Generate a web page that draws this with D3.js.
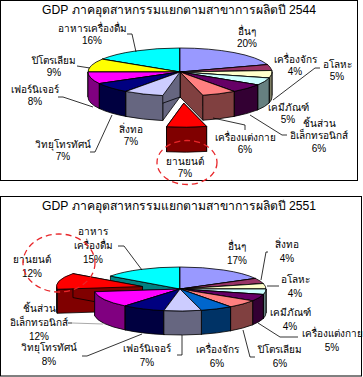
<!doctype html>
<html lang="th">
  <head>
    <meta charset="utf-8">
    <title>GDP ภาคอุตสาหกรรม</title>
    <script src="https://d3js.org/d3.v7.min.js"></script>
    <style>
      html, body { margin: 0; padding: 0; background: #fff; }
      svg { display: block; }
      text { font-family: "Liberation Sans", "Noto Sans", sans-serif; font-size: 10px; fill: #000; text-anchor: middle; dominant-baseline: middle; }
      .title { font-size: 12.2px; }
      .leader { fill: none; stroke: #000; stroke-width: 0.8; }
      .slice path { stroke: #000; stroke-width: 0.8; stroke-linejoin: round; }
      .circle { fill: none; stroke: #e8262a; stroke-width: 1.3; stroke-dasharray: 6 4; }
    </style>
  </head>
  <body>
    <div id="chart"></div>
    <script>
      // chart 1, year 2544 (clockwise from 12 o'clock)
      let title1 = "GDP ภาคอุตสาหกรรมแยกตามสาขาการผลิตปี 2544";
      let labels1 = [["อื่นๆ"], ["เครื่องจักร"], ["อโลหะ"], ["เคมีภัณฑ์"], ["ชิ้นส่วน", "อิเล็กทรอนิกส์"], ["เครื่องแต่งกาย"],
                     ["ยานยนต์"], ["สิ่งทอ"], ["วิทยุโทรทัศน์"], ["เฟอร์นิเจอร์"], ["ปิโตรเลียม"], ["อาหารเครื่องดื่ม"]];
      let values1 = [20, 4, 5, 5, 6, 6, 7, 7, 7, 8, 9, 16];
      let colors1 = ["#9999ff", "#993366", "#ffffcc", "#ccffff", "#660066", "#ff8080",
                     "#ff0000", "#ccccff", "#000080", "#ff00ff", "#ffff00", "#00ffff"];

      // chart 2, year 2551
      let title2 = "GDP ภาคอุตสาหกรรมแยกตามสาขาการผลิตปี 2551";
      let labels2 = [["อื่นๆ"], ["สิ่งทอ"], ["อโลหะ"], ["เคมีภัณฑ์"], ["เครื่องแต่งกาย"], ["ปิโตรเลียม"], ["เครื่องจักร"],
                     ["เฟอร์นิเจอร์"], ["วิทยุโทรทัศน์"], ["ชิ้นส่วน", "อิเล็กทรอนิกส์"], ["ยานยนต์"], ["อาหาร", "เครื่องดื่ม"]];
      let values2 = [17, 4, 4, 4, 5, 6, 6, 7, 8, 12, 12, 15];
      let colors2 = ["#9999ff", "#993366", "#ffffcc", "#ccffff", "#660066", "#ff8080", "#0066cc",
                     "#ccccff", "#000080", "#ff00ff", "#ff0000", "#00ffff"];

      // label centres, first line y then line step, same order as labels
      let labelPos1 = [[247, 32], [295, 60], [337, 65], [288, 108], [319, 124], [245, 138],
                       [185, 162], [131, 130], [63, 145], [35, 90], [54, 61], [92, 29]];
      let labelPos2 = [[237, 247], [287, 245], [295, 280], [290, 313], [332, 334], [280, 350],
                       [217, 350], [147, 349], [49, 348], [39, 309], [32, 260], [93, 232]];

      let leaders1 = [
        [[127, 34], [132, 34], [136, 52]],
        [[77, 66], [90, 68]],
        [[58, 97], [63, 97], [93, 107]],
        [[90, 152], [95, 152], [112, 115]],
        [[245, 130], [245, 125], [213, 118]],
        [[287, 135], [282, 135], [250, 115]],
        [[320, 68], [315, 68], [273, 100]]
      ];
      let leaders2 = [
        [[118, 246], [124, 246], [142, 270]],
        [[268, 252], [266, 252], [261, 280]],
        [[279, 286], [267, 286]],
        [[298, 337], [280, 337], [258, 323]],
        [[255, 357], [250, 357], [243, 330]],
        [[177, 355], [182, 355], [182, 335]],
        [[82, 356], [87, 356], [142, 334]],
        [[68, 323], [72, 323]]
      ];

      let svg = d3.select("#chart").append("svg")
                  .attr("width", 363)
                  .attr("height", 377);

      // frames
      svg.append("rect").attr("x", 0.5).attr("y", 0.5).attr("width", 357).attr("height", 180)
         .attr("fill", "none").attr("stroke", "#000");
      svg.append("rect").attr("x", 0.5).attr("y", 196.5).attr("width", 361).attr("height", 179.5)
         .attr("fill", "none").attr("stroke", "#000");

      function halfColor(c){
        let rgb = d3.rgb(c);
        return d3.rgb(rgb.r / 2, rgb.g / 2, rgb.b / 2).formatHex();
      }

      function drawPie(cfg){
        let g = svg.append("g");
        let arcs = d3.pie().sort(null).value((d) => d)(cfg.values);

        // pie angle -> point on the tilted ellipse
        let px = (a, r) => cfg.cx + cfg.rx * r * Math.sin(a);
        let py = (a, r) => cfg.cy - cfg.ry * r * Math.cos(a);

        let slices = arcs.map((d, i) => {
          let mid = (d.startAngle + d.endAngle) / 2;
          let off = i == cfg.explode ? cfg.explodeBy : 0;
          return {a0: d.startAngle, a1: d.endAngle, i: i, mid: mid,
                  ox: cfg.rx * off * Math.sin(mid), oy: -cfg.ry * off * Math.cos(mid)};
        });

        // back to front
        slices.sort((a, b) => Math.cos(b.mid) - Math.cos(a.mid));

        slices.forEach((s) => {
          let sg = g.append("g").attr("class", "slice").attr("transform", `translate(${s.ox},${s.oy})`);
          let side = halfColor(cfg.colors[s.i]);
          let dp = cfg.depth;

          // cut faces
          [s.a0, s.a1].forEach((a) => {
            let path = d3.path();
            path.moveTo(cfg.cx, cfg.cy);
            path.lineTo(px(a, 1), py(a, 1));
            path.lineTo(px(a, 1), py(a, 1) + dp);
            path.lineTo(cfg.cx, cfg.cy + dp);
            path.closePath();
            sg.append("path").attr("d", path.toString()).attr("fill", side);
          });

          // outer wall, only the front half of the ellipse shows
          let t0 = Math.max(s.a0, Math.PI / 2);
          let t1 = Math.min(s.a1, Math.PI * 1.5);
          if (t1 > t0){
            sg.append("path")
              .attr("d", `M${px(t0, 1)},${py(t0, 1)}A${cfg.rx},${cfg.ry} 0 0 1 ${px(t1, 1)},${py(t1, 1)}` +
                         `L${px(t1, 1)},${py(t1, 1) + dp}A${cfg.rx},${cfg.ry} 0 0 0 ${px(t0, 1)},${py(t0, 1) + dp}Z`)
              .attr("fill", side);
          }

          // top
          let large = s.a1 - s.a0 > Math.PI ? 1 : 0;
          sg.append("path")
            .attr("d", `M${cfg.cx},${cfg.cy}L${px(s.a0, 1)},${py(s.a0, 1)}` +
                       `A${cfg.rx},${cfg.ry} 0 ${large} 1 ${px(s.a1, 1)},${py(s.a1, 1)}Z`)
            .attr("fill", cfg.colors[s.i]);
        });

        // leader lines
        let line = d3.line();
        cfg.leaders.forEach((d) => {
          g.append("path").attr("class", "leader").attr("d", line(d));
        });

        // labels
        cfg.labels.forEach((lines, i) => {
          let t = g.append("text").attr("x", cfg.labelPos[i][0]).attr("y", cfg.labelPos[i][1]);
          lines.concat([cfg.values[i] + "%"]).forEach((s, j) => {
            t.append("tspan")
             .attr("x", cfg.labelPos[i][0])
             .attr("dy", j == 0 ? 0 : cfg.step)
             .text(s);
          });
        });

        g.append("text").attr("class", "title").attr("x", 179).attr("y", cfg.titleY).text(cfg.title);
      }

      drawPie({title: title1, titleY: 11, labels: labels1, values: values1, colors: colors1,
               labelPos: labelPos1, leaders: leaders1, step: 12.3,
               cx: 180, cy: 72, rx: 92, ry: 24, depth: 25, explode: 6, explodeBy: 1.3});

      // the grey tail of the electronics leader sits under the second pie's label
      svg.append("line").attr("x1", 72).attr("y1", 323).attr("x2", 103).attr("y2", 324)
         .attr("stroke", "#aaa").attr("stroke-width", 1);

      drawPie({title: title2, titleY: 207, labels: labels2, values: values2, colors: colors2,
               labelPos: labelPos2, leaders: leaders2, step: 14,
               cx: 180, cy: 289, rx: 86, ry: 22, depth: 24, explode: 10, explodeBy: 0.45});

      // hand drawn dashed circles round ยานยนต์
      svg.append("ellipse").attr("class", "circle").attr("cx", 187).attr("cy", 162.5).attr("rx", 30).attr("ry", 22);
      svg.append("ellipse").attr("class", "circle").attr("cx", 59).attr("cy", 263).attr("rx", 36).attr("ry", 29);
    </script>
  </body>
</html>
